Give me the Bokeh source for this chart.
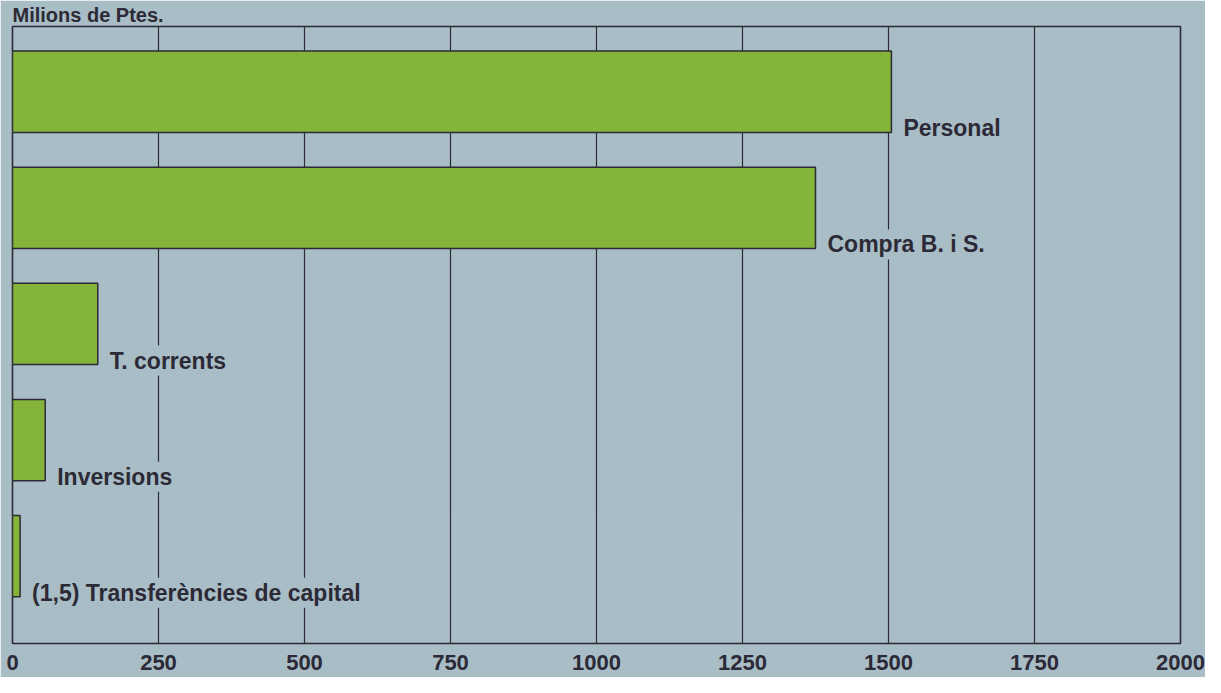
from bokeh.plotting import figure
from bokeh.models import ColumnDataSource, Range1d, FixedTicker
from bokeh.core.properties import value
from bokeh.embed import file_html
from bokeh.resources import INLINE

# Data (Milions de Ptes.)
categories = ["Personal", "Compra B. i S.", "T. corrents", "Inversions", "(1,5) Transferències de capital"]
values = [1505, 1375, 146, 56, 13]
positions = [5, 4, 3, 2, 1]
x_ticks = [0, 250, 500, 750, 1000, 1250, 1500, 1750, 2000]
title_text = "Milions de Ptes."

BG = "#a9bdc6"
GREEN = "#84b43a"
DARK = "#2c2a36"
FONT = "Liberation Sans"
BAR_H = 0.70

W, H = 1205, 677
p = figure(width=W, height=H, output_backend="svg", toolbar_location=None,
           x_range=Range1d(0, 2000), y_range=Range1d(0.248, 5.562),
           min_border_left=12, min_border_right=25, min_border_top=0, min_border_bottom=34,
           title=title_text)
p.title.text_font = FONT
p.title.text_font_style = "bold"
p.title.text_font_size = "20px"
p.title.text_color = DARK
p.title.align = "left"
p.title.standoff = 2
p.background_fill_color = BG
p.border_fill_color = BG
p.outline_line_color = DARK
p.outline_line_width = 1.6

p.yaxis.visible = False
p.ygrid.visible = False
p.xgrid.ticker = FixedTicker(ticks=x_ticks)
p.xgrid.grid_line_color = DARK
p.xgrid.grid_line_width = 1.2
p.xgrid.grid_line_alpha = 1.0

p.xaxis.ticker = FixedTicker(ticks=x_ticks)
p.xaxis.axis_line_color = None
p.xaxis.major_tick_line_color = None
p.xaxis.minor_tick_line_color = None
p.xaxis.major_label_standoff = 5
p.xaxis.major_label_text_font = FONT
p.xaxis.major_label_text_font_style = "bold"
p.xaxis.major_label_text_font_size = "22px"
p.xaxis.major_label_text_color = DARK

bottoms = [y - BAR_H / 2 for y in positions]
src = ColumnDataSource(dict(y=positions, right=values, label=categories, bottom=bottoms))

p.hbar(y="y", left=0, right="right", height=BAR_H, source=src,
       fill_color=GREEN, line_color=DARK, line_width=1.5)

p.text(x="right", y="bottom", text="label", source=src,
       x_offset=10, y_offset=-4, text_baseline="alphabetic", text_align="left",
       text_font=value(FONT), text_font_style="bold", text_font_size="23px",
       text_color=DARK, background_fill_color=BG, padding=2)

open("out.html", "w").write(file_html(p, INLINE))
